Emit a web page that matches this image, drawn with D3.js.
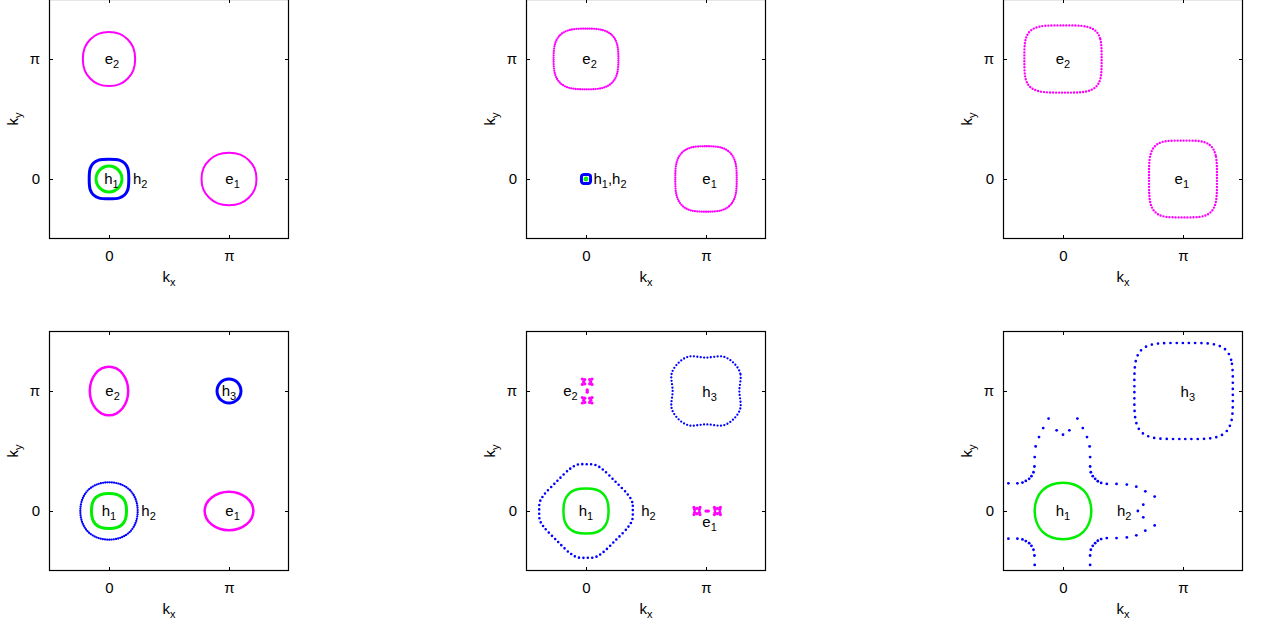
<!DOCTYPE html>
<html>
<head>
<meta charset="utf-8">
<script src="https://cdn.jsdelivr.net/npm/d3@7"></script>
<style>
  body { margin: 0; background: #fff; }
  svg { display: block; font-family: "Liberation Sans", Arial, sans-serif; }
</style>
</head>
<body>
<svg id="chart" width="1266" height="627"></svg>
<script>
// all k values are in units of pi
const tickValues = [0, 1];
const tickLabels = ["0", "\u03c0"];

// panel a
const aE2 = [[0.218,1],[0.203,1.092],[0.157,1.162],[0.089,1.209],[0,1.225],[-0.089,1.209],[-0.157,1.162],[-0.203,1.092],[-0.218,1],[-0.203,0.908],[-0.157,0.838],[-0.089,0.791],[0,0.775],[0.089,0.791],[0.157,0.838],[0.203,0.908]];
const aE1 = [[1.229,0],[1.213,0.089],[1.165,0.157],[1.094,0.203],[1,0.218],[0.906,0.203],[0.835,0.157],[0.787,0.089],[0.771,0],[0.787,-0.089],[0.835,-0.157],[0.906,-0.203],[1,-0.218],[1.094,-0.203],[1.165,-0.157],[1.213,-0.089]];
const aH2 = [[0.165,0],[0.157,0.087],[0.131,0.131],[0.087,0.157],[0,0.165],[-0.087,0.157],[-0.131,0.131],[-0.157,0.087],[-0.165,0],[-0.157,-0.087],[-0.131,-0.131],[-0.087,-0.157],[0,-0.165],[0.087,-0.157],[0.131,-0.131],[0.157,-0.087]];
const aH1 = [[0.108,0],[0.1,0.041],[0.076,0.076],[0.041,0.1],[0,0.108],[-0.041,0.1],[-0.076,0.076],[-0.1,0.041],[-0.108,0],[-0.1,-0.041],[-0.076,-0.076],[-0.041,-0.1],[0,-0.108],[0.041,-0.1],[0.076,-0.076],[0.1,-0.041]];
const aLabels = [["e_2",0.025,1],["h_1",0.02,0],["h_2",0.26,0],["e_1",1.03,0]];

// panel b
const bE2 = [[0.27,1],[0.256,1.133],[0.214,1.201],[0.142,1.24],[0,1.253],[-0.142,1.24],[-0.214,1.201],[-0.256,1.133],[-0.27,1],[-0.256,0.867],[-0.214,0.799],[-0.142,0.76],[0,0.747],[0.142,0.76],[0.214,0.799],[0.256,0.867]];
const bE1 = [[1.256,0],[1.243,0.144],[1.203,0.217],[1.135,0.259],[1,0.273],[0.865,0.259],[0.797,0.217],[0.757,0.144],[0.744,0],[0.757,-0.144],[0.797,-0.217],[0.865,-0.259],[1,-0.273],[1.135,-0.259],[1.203,-0.217],[1.243,-0.144]];
const bH2 = [[0.038,0],[0.037,0.024],[0.032,0.032],[0.024,0.037],[0,0.038],[-0.024,0.037],[-0.032,0.032],[-0.037,0.024],[-0.038,0],[-0.037,-0.024],[-0.032,-0.032],[-0.024,-0.037],[0,-0.038],[0.024,-0.037],[0.032,-0.032],[0.037,-0.024]];
const bH1 = [[0.012,0],[0.008,0.008],[0,0.012],[-0.008,0.008],[-0.012,0],[-0.008,-0.008],[0,-0.012],[0.008,-0.008]];
const bLabels = [["e_2",0.03,1],["e_1",1.03,0],["h_1,h_2",0.2,0]];

// panel c
const cE2 = [[0.322,1],[0.309,1.173],[0.271,1.235],[0.199,1.269],[0,1.28],[-0.199,1.269],[-0.271,1.235],[-0.309,1.173],[-0.322,1],[-0.309,0.827],[-0.271,0.765],[-0.199,0.731],[0,0.72],[0.199,0.731],[0.271,0.765],[0.309,0.827]];
const cE1 = [[1.283,0],[1.272,0.198],[1.238,0.269],[1.175,0.308],[1,0.32],[0.825,0.308],[0.762,0.269],[0.728,0.198],[0.717,0],[0.728,-0.198],[0.762,-0.269],[0.825,-0.308],[1,-0.32],[1.175,-0.308],[1.238,-0.269],[1.272,-0.198]];
const cLabels = [["e_2",0,1],["e_1",0.99,0]];

// panel d
const dE2 = [[0.16,1],[0.148,1.078],[0.113,1.144],[0.061,1.188],[0,1.203],[-0.061,1.188],[-0.113,1.144],[-0.148,1.078],[-0.16,1],[-0.148,0.922],[-0.113,0.856],[-0.061,0.812],[0,0.797],[0.061,0.812],[0.113,0.856],[0.148,0.922]];
const dE1 = [[1.203,0],[1.188,0.061],[1.144,0.113],[1.078,0.148],[1,0.16],[0.922,0.148],[0.856,0.113],[0.812,0.061],[0.797,0],[0.812,-0.061],[0.856,-0.113],[0.922,-0.148],[1,-0.16],[1.078,-0.148],[1.144,-0.113],[1.188,-0.061]];
const dH3 = [[1.1,1],[1.092,1.038],[1.071,1.071],[1.038,1.092],[1,1.1],[0.962,1.092],[0.929,1.071],[0.908,1.038],[0.9,1],[0.908,0.962],[0.929,0.929],[0.962,0.908],[1,0.9],[1.038,0.908],[1.071,0.929],[1.092,0.962]];
const dH2 = [[0.239,0],[0.222,0.098],[0.174,0.174],[0.098,0.222],[0,0.239],[-0.098,0.222],[-0.174,0.174],[-0.222,0.098],[-0.239,0],[-0.222,-0.098],[-0.174,-0.174],[-0.098,-0.222],[0,-0.239],[0.098,-0.222],[0.174,-0.174],[0.222,-0.098]];
const dH1 = [[0.146,0],[0.137,0.068],[0.111,0.111],[0.068,0.137],[0,0.146],[-0.068,0.137],[-0.111,0.111],[-0.137,0.068],[-0.146,0],[-0.137,-0.068],[-0.111,-0.111],[-0.068,-0.137],[0,-0.146],[0.068,-0.137],[0.111,-0.111],[0.137,-0.068]];
const dLabels = [["e_2",0.03,1],["h_3",1.0,1],["h_1",0,0],["h_2",0.33,0],["e_1",1.03,0]];

// panel e
const eH3 = [[1.278,1],[1.286,1.145],[1.232,1.232],[1.145,1.286],[1,1.278],[0.855,1.286],[0.768,1.232],[0.714,1.145],[0.722,1],[0.714,0.855],[0.768,0.768],[0.855,0.714],[1,0.722],[1.145,0.714],[1.232,0.768],[1.286,0.855]];
const eH2 = [[0.39,0],[0.385,0.075],[0.35,0.135],[0.245,0.245],[0.135,0.35],[0.075,0.385],[0,0.39],[-0.075,0.385],[-0.135,0.35],[-0.245,0.245],[-0.35,0.135],[-0.385,0.075],[-0.39,0],[-0.385,-0.075],[-0.35,-0.135],[-0.245,-0.245],[-0.135,-0.35],[-0.075,-0.385],[0,-0.39],[0.075,-0.385],[0.135,-0.35],[0.245,-0.245],[0.35,-0.135],[0.385,-0.075]];
const eH1 = [[0.188,0],[0.177,0.087],[0.143,0.143],[0.087,0.177],[0,0.188],[-0.087,0.177],[-0.143,0.143],[-0.177,0.087],[-0.188,0],[-0.177,-0.087],[-0.143,-0.143],[-0.087,-0.177],[0,-0.188],[0.087,-0.177],[0.143,-0.143],[0.177,-0.087]];
const eE2 = [[-0.03,1.1],[-0.01,1.095],[0.03,1.095],[0.05,1.1],[-0.02,1.078],[0.04,1.078],[-0.03,1.055],[-0.01,1.06],[0.03,1.06],[0.05,1.055],[0.01,0.99],[0.01,1.0],[0.01,1.01],[-0.03,0.945],[-0.01,0.94],[0.03,0.94],[0.05,0.945],[-0.02,0.922],[0.04,0.922],[-0.03,0.9],[-0.01,0.905],[0.03,0.905],[0.05,0.9]];
const eE1 = [[1.12,-0.03],[1.115,-0.012],[1.115,0.012],[1.12,0.03],[1.095,-0.022],[1.095,0.022],[1.07,-0.03],[1.075,-0.012],[1.075,0.012],[1.07,0.03],[1.0,0],[1.01,0],[1.02,0],[0.95,-0.03],[0.945,-0.012],[0.945,0.012],[0.95,0.03],[0.925,-0.022],[0.925,0.022],[0.9,-0.03],[0.905,-0.012],[0.905,0.012],[0.9,0.03]];
const eLabels = [["e_2",-0.13,1],["h_3",1.03,0.99],["h_1",0,0],["h_2",0.52,0],["e_1",1.03,-0.09]];

// panel f
const fH3 = [[1.415,1],[1.401,1.26],[1.356,1.343],[1.272,1.386],[1.005,1.4],[0.738,1.386],[0.654,1.343],[0.609,1.26],[0.595,1],[0.609,0.74],[0.654,0.657],[0.738,0.614],[1.005,0.6],[1.272,0.614],[1.356,0.657],[1.401,0.74]];
const fH1 = [[0.236,0],[0.219,0.097],[0.172,0.172],[0.097,0.219],[0,0.236],[-0.097,0.219],[-0.172,0.172],[-0.219,0.097],[-0.236,0],[-0.219,-0.097],[-0.172,-0.172],[-0.097,-0.219],[0,-0.236],[0.097,-0.219],[0.172,-0.172],[0.219,-0.097]];
const fH2 = [[-0.455,0.231],[-0.38,0.231],[-0.338,0.237],[-0.31,0.251],[-0.282,0.268],[-0.263,0.29],[-0.246,0.323],[-0.238,0.371],[-0.236,0.449],[-0.228,0.538],[-0.2,0.616],[-0.165,0.691],[-0.12,0.77],[-0.053,0.672],[0,0.636],[0.053,0.672],[0.12,0.77],[0.165,0.691],[0.2,0.616],[0.222,0.538],[0.226,0.449],[0.226,0.371],[0.232,0.323],[0.248,0.29],[0.268,0.268],[0.29,0.248],[0.318,0.234],[0.365,0.226],[0.446,0.226],[0.532,0.22],[0.611,0.203],[0.686,0.164],[0.764,0.12],[0.669,0.053],[0.624,0],
  [-0.455,-0.231],[-0.38,-0.231],[-0.338,-0.237],[-0.31,-0.251],[-0.282,-0.268],[-0.263,-0.29],[-0.246,-0.323],[-0.238,-0.371],[-0.236,-0.449],[0.226,-0.449],[0.226,-0.371],[0.232,-0.323],[0.248,-0.29],[0.268,-0.268],[0.29,-0.248],[0.318,-0.234],[0.365,-0.226],[0.446,-0.226],[0.532,-0.22],[0.611,-0.203],[0.686,-0.164],[0.764,-0.12],[0.669,-0.053]];
const fLabels = [["h_3",1.04,0.99],["h_1",0,0],["h_2",0.51,0]];

// look
const colors = { e: "#ff00ff", h2: "#0000ff", h1: "#00ee00" };
const strokes = {
  line2: { w: 2, dash: null },
  line25: { w: 2.5, dash: null },
  line3: { w: 3, dash: null },
  dense: { w: 2.3, dash: "0 2.2" },
  dotC: { w: 2.4, dash: "0 3" },
  dotE3: { w: 2.3, dash: "0 3.4" },
  dotE2: { w: 2.6, dash: "0 4.4" },
  dotF: { w: 2.7, dash: "0 6.2" }
};
const fontSize = 15;
const subSize = 11;

const size = 240;
const colX = [49, 526, 1003];
const rowY = [-1, 331];

const panels = [
  { c: 0, r: 0, curves: [[aE2,"e","line2"],[aE1,"e","line2"],[aH2,"h2","line3"],[aH1,"h1","line3"]], dots: [], labels: aLabels },
  { c: 1, r: 0, curves: [[bE2,"e","dense"],[bE1,"e","dense"],[bH2,"h2","line3"],[bH1,"h1","line2"]], dots: [], labels: bLabels },
  { c: 2, r: 0, curves: [[cE2,"e","dotC"],[cE1,"e","dotC"]], dots: [], labels: cLabels },
  { c: 0, r: 1, curves: [[dE2,"e","line25"],[dE1,"e","line25"],[dH3,"h2","line3"],[dH2,"h2","dense"],[dH1,"h1","line3"]], dots: [], labels: dLabels },
  { c: 1, r: 1, curves: [[eH3,"h2","dotE3"],[eH2,"h2","dotE2"],[eH1,"h1","line25"]], dots: [[eE2,"e",1.6],[eE1,"e",1.6]], labels: eLabels },
  { c: 2, r: 1, curves: [[fH3,"h2","dotF"],[fH1,"h1","line25"]], dots: [[fH2,"h2",1.4]], labels: fLabels }
];

const svg = d3.select("#chart");

function addText(sel, str) {
  // "h_1,h_2" -> h, sub 1, ",h", sub 2
  const parts = str.split(/_(\w)/);
  parts.forEach((p, i) => {
    if (p === "") return;
    const sub = i % 2 === 1;
    const t = sel.append("tspan").text(p);
    if (sub) t.attr("font-size", subSize).attr("dy", 4);
    else if (i > 0) t.attr("dy", -4);
  });
}

panels.forEach((p, idx) => {
  const g = svg.append("g").attr("transform", `translate(${colX[p.c]},${rowY[p.r]})`);
  const x = d3.scaleLinear().domain([-0.5, 1.5]).range([0, size]);
  const y = d3.scaleLinear().domain([-0.5, 1.5]).range([size, 0]);

  g.append("clipPath").attr("id", "clip" + idx)
    .append("rect").attr("width", size).attr("height", size);
  const plot = g.append("g").attr("clip-path", `url(#clip${idx})`);

  const line = d3.line()
    .x(d => x(d[0])).y(d => y(d[1]))
    .curve(d3.curveCatmullRomClosed.alpha(0.5));

  p.curves.forEach(([pts, col, st]) => {
    const s = strokes[st];
    plot.append("path")
      .attr("d", line(pts))
      .attr("fill", "none")
      .attr("stroke", colors[col])
      .attr("stroke-width", s.w)
      .attr("stroke-linecap", "round")
      .attr("stroke-linejoin", "round")
      .attr("stroke-dasharray", s.dash);
  });

  p.dots.forEach(([pts, col, r]) => {
    plot.selectAll(null).data(pts).enter().append("circle")
      .attr("cx", d => x(d[0])).attr("cy", d => y(d[1]))
      .attr("r", r).attr("fill", colors[col]);
  });

  // labels
  p.labels.forEach(([txt, kx, ky]) => {
    const t = g.append("text")
      .attr("x", x(kx)).attr("y", y(ky) + 5)
      .attr("text-anchor", "middle")
      .attr("font-size", fontSize).attr("fill", "#000");
    addText(t, txt);
  });

  // frame and axes, ticks mirrored on all sides
  const fmt = (d, i) => tickLabels[i];
  const axB = g.append("g").attr("transform", `translate(0,${size})`)
    .call(d3.axisBottom(x).tickValues(tickValues).tickFormat(fmt).tickSizeInner(-4).tickSizeOuter(0).tickPadding(11));
  const axL = g.append("g")
    .call(d3.axisLeft(y).tickValues(tickValues).tickFormat(fmt).tickSizeInner(-4).tickSizeOuter(0).tickPadding(9));
  const axT = g.append("g")
    .call(d3.axisTop(x).tickValues(tickValues).tickFormat("").tickSizeInner(-4).tickSizeOuter(0));
  const axR = g.append("g").attr("transform", `translate(${size},0)`)
    .call(d3.axisRight(y).tickValues(tickValues).tickFormat("").tickSizeInner(-4).tickSizeOuter(0));
  [axB, axL, axT, axR].forEach(a => {
    a.attr("font-size", fontSize).attr("font-family", null);
    a.select(".domain").remove();
    a.selectAll("text").attr("fill", "#000");
    a.selectAll("line").attr("stroke", "#000");
  });

  g.append("rect").attr("x", 0.5).attr("y", 0.5)
    .attr("width", size - 1).attr("height", size - 1)
    .attr("fill", "none").attr("stroke", "#000").attr("stroke-width", 1.2);

  const tx = g.append("text")
    .attr("x", size / 2).attr("y", size + 42.5)
    .attr("text-anchor", "middle").attr("font-size", fontSize);
  addText(tx, "k_x");
  const ty = g.append("text")
    .attr("transform", `translate(-31,${size / 2}) rotate(-90)`)
    .attr("text-anchor", "middle").attr("font-size", fontSize);
  addText(ty, "k_y");
});
</script>
</body>
</html>
